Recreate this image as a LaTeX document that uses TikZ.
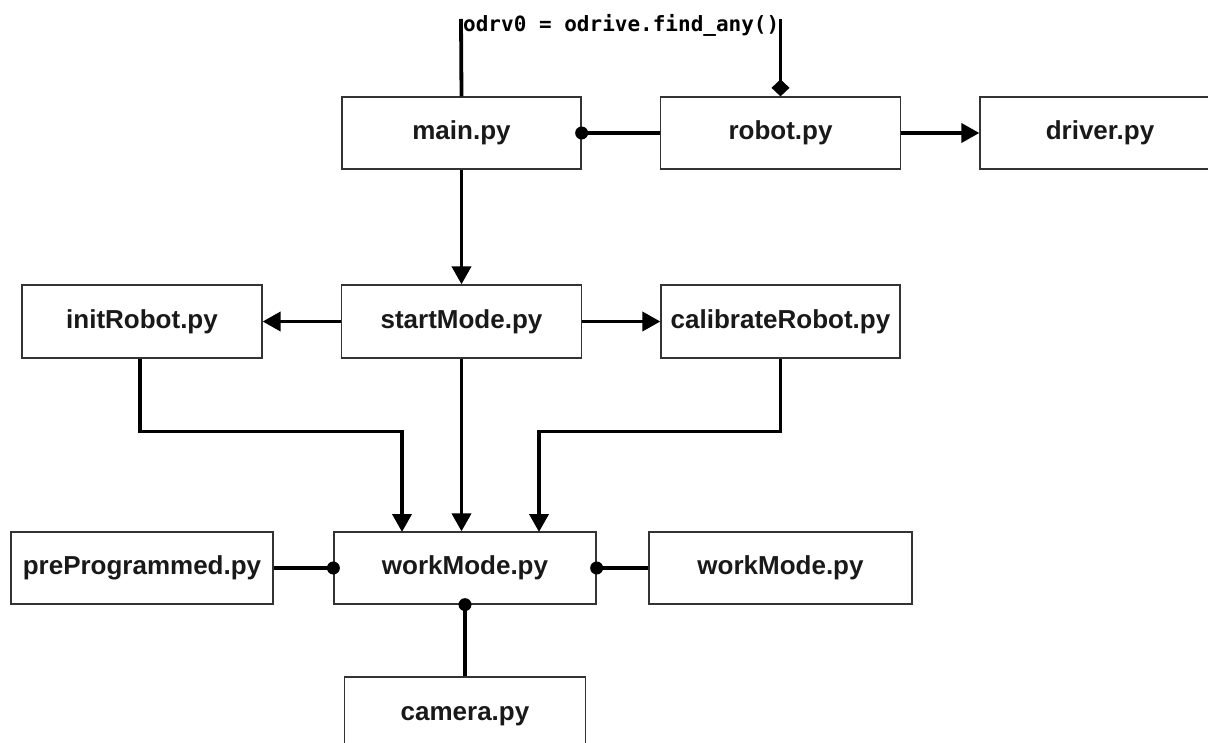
\documentclass[tikz,border=0pt]{standalone}
\usepackage{fontspec}
\setmainfont{Liberation Sans}
\newfontfamily\codefont{DejaVu Sans Mono}
\usetikzlibrary{arrows.meta}
\begin{document}
\begin{tikzpicture}[x=1pt,y=-1pt,
  box/.style={draw=black!80, line width=1.3pt, fill=white, inner sep=0pt,
    minimum height=72pt, font=\bfseries\fontsize{26}{30}\selectfont, text=black!90},
  wire/.style={line width=3.8pt, line cap=butt},
  arr/.style={wire, -{Triangle[length=18pt,width=19pt]}},
  dia/.style={wire, -{Diamond[length=17pt,width=18pt]}},
  dotr/.style={fill=black}
]
\useasboundingbox (0,0) rectangle (1208,743);
\clip (0,0) rectangle (1208,743);
\fill[white] (0,0) rectangle (1208,743);

% nodes
\node[box, minimum width=239pt] (main) at (461.5,133) {main.py};
\node[box, minimum width=240pt] (robot) at (780.5,133) {robot.py};
\node[box, minimum width=240pt] (driver) at (1100,133) {driver.py};
\node[box, minimum width=240pt, minimum height=73pt] (init) at (142,321.5) {initRobot.py};
\node[box, minimum width=240pt, minimum height=73pt] (start) at (461.5,321.5) {startMode.py};
\node[box, minimum width=239pt, minimum height=73pt] (calib) at (780.5,321.5) {calibrateRobot.py};
\node[box, minimum width=262pt] (pre) at (142,568) {preProgrammed.py};
\node[box, minimum width=262pt] (work) at (465,568) {workMode.py};
\node[box, minimum width=263pt] (work2) at (780.5,568) {workMode.py};
\node[box, minimum width=241pt, minimum height=72pt] (cam) at (465,713) {};
\node[font=\bfseries\fontsize{26}{30}\selectfont, text=black!90, inner sep=0pt] (camtxt) at (465,716) {camera.py};

% label
\node[font=\codefont\bfseries\fontsize{21}{24}\selectfont, anchor=base west, inner sep=0pt] (lbl) at (463,32) {odrv0 = odrive.find\_any()};
\coordinate (lblL) at (461,19);
\coordinate (lblR) at (780.5,19);

% connectors
\draw[wire] (main.north) -- (lblL);
\draw[dia] (lblR) -- (robot.north);
\draw[wire] (main.east) -- (robot.west);
\fill[dotr] (main.east) circle (6.5pt);
\draw[arr] (robot.east) -- (driver.west);
\draw[arr] (main.south) -- (start.north);
\draw[arr] (start.west) -- (init.east);
\draw[arr] (start.east) -- (calib.west);
\draw[arr] (init.south -| 140,0) |- (402,431.5) -- (402,532);
\draw[arr] (start.south) -- (start.south |- work.north);
\draw[arr] (calib.south) |- (539,431.5) -- (539,532);
\draw[wire] (pre.east) -- (work.west);
\fill[dotr] (work.west) circle (6.5pt);
\draw[wire] (work.east) -- (work2.west);
\fill[dotr] (work.east) circle (6.5pt);
\draw[wire] (work.south) -- (cam.north);
\fill[dotr] (work.south) circle (6.5pt);
\end{tikzpicture}
\end{document}
